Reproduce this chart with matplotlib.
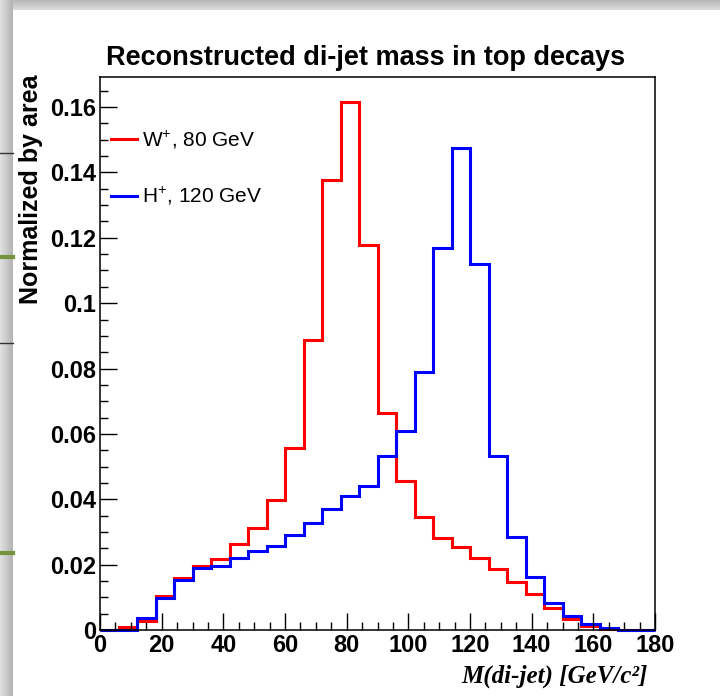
import numpy as np
import matplotlib
matplotlib.use("Agg")
import matplotlib.pyplot as plt
from matplotlib.ticker import MultipleLocator, FuncFormatter

plt.rcParams['font.family'] = ['Liberation Sans', 'DejaVu Sans']
plt.rcParams['mathtext.fontset'] = 'custom'
plt.rcParams['mathtext.rm'] = 'Liberation Sans'

# di-jet mass bins, 6 GeV wide, 0..180
bin_edges = np.arange(0, 181, 6)

# W+ (80 GeV), normalized by area
w_vals = [0.0, 0.001, 0.0029, 0.0103, 0.0158, 0.0195, 0.0216, 0.0262, 0.0313, 0.0397,
          0.0557, 0.0887, 0.1378, 0.1617, 0.1178, 0.0663, 0.0455, 0.0345, 0.0280, 0.0255,
          0.0219, 0.0186, 0.0148, 0.0110, 0.0067, 0.0033, 0.0012, 0.0003, 0.0, 0.0]

# H+ (120 GeV), normalized by area
h_vals = [0.0, 0.0, 0.0036, 0.0099, 0.0153, 0.0191, 0.0197, 0.0219, 0.0243, 0.0258,
          0.0291, 0.0327, 0.0369, 0.0411, 0.0441, 0.0532, 0.0609, 0.0790, 0.1170, 0.1474,
          0.1119, 0.0532, 0.0285, 0.0161, 0.0082, 0.0044, 0.0017, 0.0005, 0.0, 0.0]

labels = [r'W$^{+}$, 80 GeV', r'H$^{+}$, 120 GeV']
colors = ['#ff0000', '#0000ff']

W, H = 720, 696
fig = plt.figure(figsize=(W / 100, H / 100), dpi=100)
fig.patch.set_facecolor('white')

# bit of the slide behind the canvas, left and top edges
bg = fig.add_axes([0, 0, 1, 1], zorder=-10)
bg.set_xlim(0, W)
bg.set_ylim(H, 0)
bg.axis('off')
for i, g in enumerate(np.linspace(0.88, 0.70, 20)):
    bg.axvspan(i * 13 / 20, (i + 1) * 13 / 20, color=(g, g, g), lw=0)
for i, g in enumerate(np.linspace(0.72, 0.86, 10)):
    bg.axhspan(i, i + 1, xmin=13 / W, color=(g, g, g), lw=0)
bg.plot([0, 13], [153, 153], color='#333333', lw=1)
bg.plot([0, 13], [343, 343], color='#333333', lw=1)
bg.plot([0, 13], [257, 257], color='#76923c', lw=3)
bg.plot([0, 13], [553, 553], color='#76923c', lw=3)

ax = fig.add_axes([100 / W, 1 - 630 / H, 555 / W, 553 / H])
for vals, lab, c in zip([w_vals, h_vals], labels, colors):
    ax.stairs(vals, bin_edges, color=c, lw=2.2, label=lab, clip_on=False)

ax.set_xlim(0, 180)
ax.set_ylim(0, 0.1692)
ax.xaxis.set_major_locator(MultipleLocator(20))
ax.xaxis.set_minor_locator(MultipleLocator(5))
ax.yaxis.set_major_locator(MultipleLocator(0.02))
ax.yaxis.set_minor_locator(MultipleLocator(0.005))
fmt = FuncFormatter(lambda v, p: '%g' % round(v, 4))
ax.xaxis.set_major_formatter(fmt)
ax.yaxis.set_major_formatter(fmt)
ax.tick_params(which='both', direction='in', top=False, right=False, width=1,
               labelsize=17)
ax.tick_params(which='major', length=12)
ax.tick_params(which='minor', length=6)
ax.tick_params(axis='y', pad=3)
ax.tick_params(axis='x', pad=3)
for lbl in ax.get_xticklabels() + ax.get_yticklabels():
    lbl.set_fontweight('bold')
for s in ax.spines.values():
    s.set_linewidth(1.1)

leg = ax.legend(loc='upper left', bbox_to_anchor=(0.02, 0.907), frameon=False,
                fontsize=15, handlelength=1.25, handletextpad=0.25,
                labelspacing=1.6, borderpad=0, borderaxespad=0)

fig.text(366 / W, 1 - 58 / H, 'Reconstructed di-jet mass in top decays',
         ha='center', va='center', fontsize=19.5, fontweight='bold')
fig.text(31 / W, 1 - 75 / H, 'Normalized by area', rotation=90,
         ha='center', va='top', fontsize=18, fontweight='bold')
fig.text(648 / W, 1 - 676 / H, 'M(di-jet) [GeV/c\u00b2]', family='Liberation Serif',
         style='italic', fontweight='bold', ha='right', va='center', fontsize=18)

fig.savefig('out.png', dpi=100)
